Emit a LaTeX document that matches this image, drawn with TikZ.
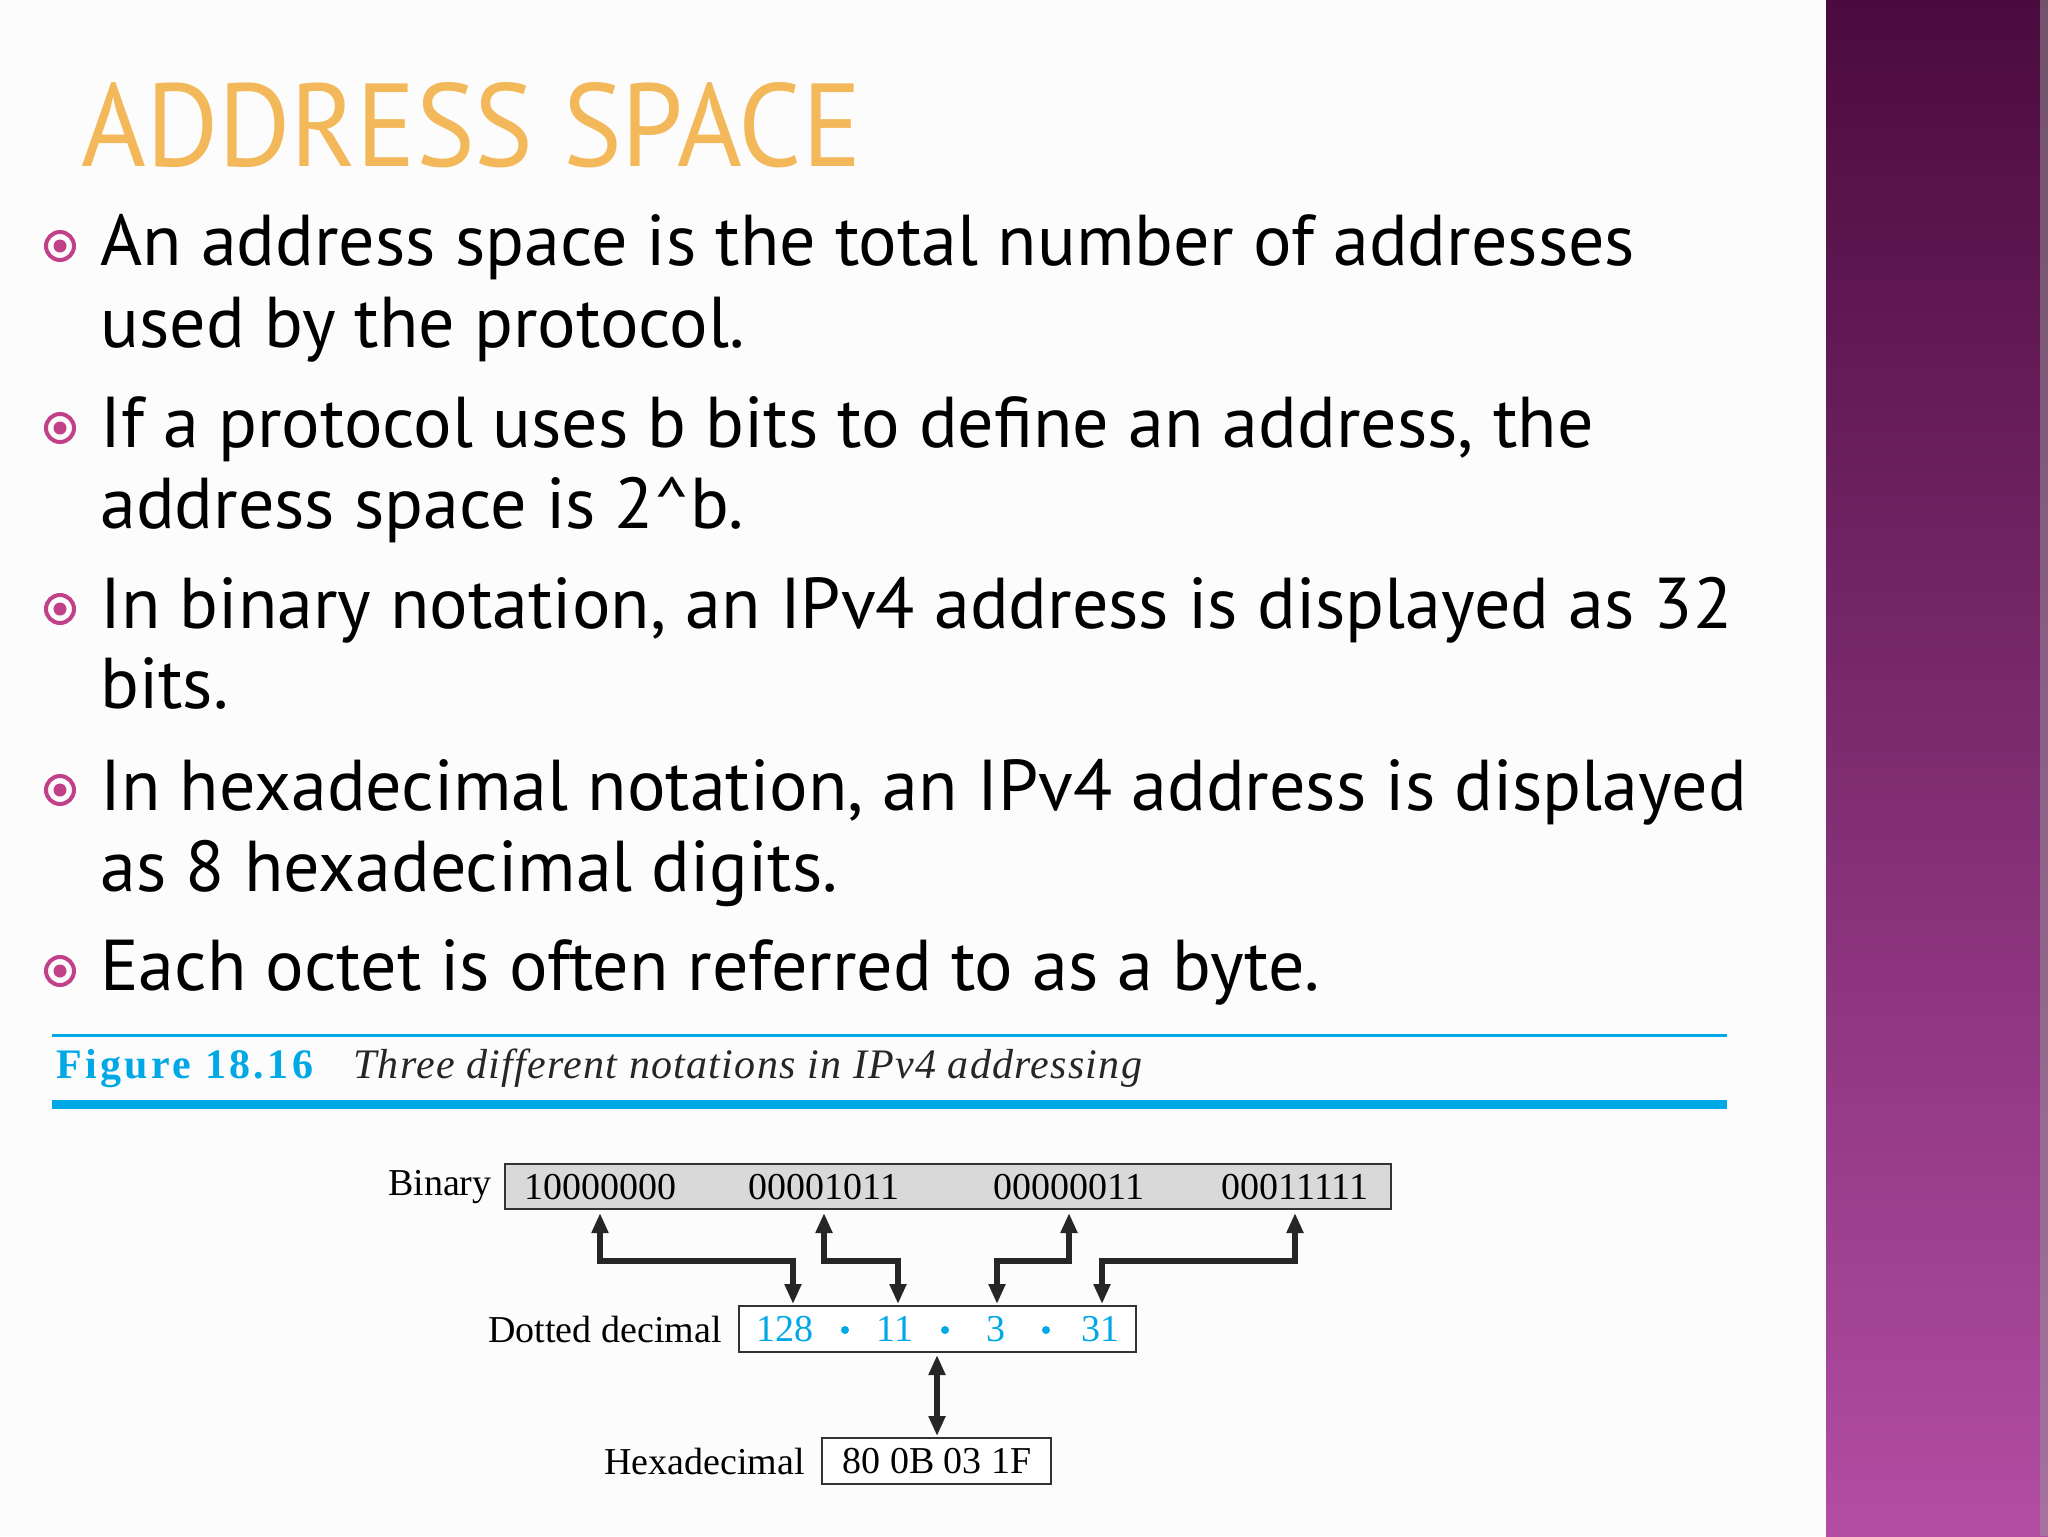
\documentclass[tikz,border=0pt]{standalone}
\usepackage{fontspec}
\setmainfont{Liberation Serif}
\newfontfamily\bodyfont{PT Sans}
\usetikzlibrary{arrows.meta}
\definecolor{bandtop}{HTML}{4B0B3E}
\definecolor{bandbot}{HTML}{B24DA3}
\definecolor{bul}{HTML}{C0408A}
\definecolor{titlec}{HTML}{F3B85A}
\definecolor{figcyan}{HTML}{00A8E6}
\definecolor{boxgray}{HTML}{D9D9D9}
\tikzset{
  btext/.style={anchor=base west,font=\bodyfont\fontsize{36}{42}\selectfont,text=black,inner sep=0},
  dtext/.style={font=\fontsize{19}{21}\selectfont,inner sep=0},
  fbox/.style={draw=black!80,line width=1.2pt},
  dblarrow/.style={line width=2.8pt,black!85,{Triangle[length=10pt,width=8pt]}-{Triangle[length=10pt,width=8pt]}},
}
\newcommand{\mybullet}[1]{\draw[bul,line width=2pt] (60,#1) circle (14); \fill[bul] (60,#1) circle (6.5);}
\begin{document}
\begin{tikzpicture}[x=0.5pt,y=-0.5pt]
\useasboundingbox (0,0) rectangle (2048,1536);
\fill[black!1] (0,0) rectangle (2048,1536);
\shade[top color=bandtop,bottom color=bandbot] (1826,0) rectangle (2048,1536);
\fill[black!40,opacity=0.5] (2040,0) rectangle (2048,1536);
% title
\node[anchor=base west,inner sep=0,text=titlec] (title) at (81,166) {\resizebox{390pt}{42pt}{\bodyfont ADDRESS SPACE}};
% bullets
\mybullet{246}\mybullet{428}\mybullet{609}\mybullet{790}\mybullet{971}
\node[btext] (b1) at (100,265) {An address space is the total number of addresses};
\node[btext] (b1b) at (100,347) {used by the protocol.};
\node[btext] (b2) at (100,447) {If a protocol uses b bits to define an address, the};
\node[btext] (b2b) at (100,528) {address space is 2\string^b.};
\node[btext] (b3) at (100,628) {In binary notation, an IPv4 address is displayed as 32};
\node[btext] (b3b) at (100,708) {bits.};
\node[btext] (b4) at (100,810) {In hexadecimal notation, an IPv4 address is displayed};
\node[btext] (b4b) at (100,891) {as 8 hexadecimal digits.};
\node[btext] (b5) at (100,990) {Each octet is often referred to as a byte.};
% figure caption
\draw[figcyan,line width=1.5pt] (52,1035) -- (1727,1035);
\draw[figcyan,line width=4.5pt] (52,1104) -- (1727,1104);
\node[anchor=base west,inner sep=0,text=figcyan,font=\bfseries\fontsize{21}{24}\selectfont] (figno) at (56,1078) {\addfontfeature{LetterSpace=8}Figure 18.16};
\node[anchor=base west,inner sep=0,font=\itshape\fontsize{21}{24}\selectfont,text=black!85] (figcap) at (353,1078) {\addfontfeature{LetterSpace=3}Three different notations in IPv4 addressing};
% boxes
\draw[fbox,fill=boxgray] (505,1164) rectangle (1391,1209);
\draw[fbox,fill=white] (739,1306) rectangle (1136,1352);
\draw[fbox,fill=white] (822,1438) rectangle (1051,1484);
\node[dtext,anchor=east] (lbin) at (492,1187) {Binary};
\node[dtext,anchor=east] (ldot) at (722,1329) {Dotted decimal};
\node[dtext,anchor=east] (lhex) at (805,1461) {Hexadecimal};
\node[dtext] (o1) at (600,1187) {10000000};
\node[dtext] (o2) at (824,1187) {00001011};
\node[dtext] (o3) at (1069,1187) {00000011};
\node[dtext] (o4) at (1295,1187) {00011111};
\node[dtext,text=figcyan] (d1) at (785,1329) {128};
\node[dtext,text=figcyan] (d2) at (895,1329) {11};
\node[dtext,text=figcyan] (d3) at (996,1329) {3};
\node[dtext,text=figcyan] (d4) at (1100,1329) {31};
\foreach \x in {845,945,1046} \fill[figcyan] (\x,1330) circle (4);
\node[dtext] (hx) at (937,1461) {80 0B 03 1F};
% connectors
\coordinate (u1) at (600,1213); \coordinate (v1) at (793,1304);
\coordinate (u2) at (824,1213); \coordinate (v2) at (898,1304);
\coordinate (u3) at (1069,1213); \coordinate (v3) at (997,1304);
\coordinate (u4) at (1295,1213); \coordinate (v4) at (1102,1304);
\foreach \i in {1,2,3,4}{
  \draw[dblarrow] (u\i) -- (u\i |- 0,1261) -- (v\i |- 0,1261) -- (v\i);
}
\coordinate (h1) at (937,1355); \coordinate (h2) at (937,1436);
\draw[dblarrow] (h1) -- (h2);
\end{tikzpicture}
\end{document}
